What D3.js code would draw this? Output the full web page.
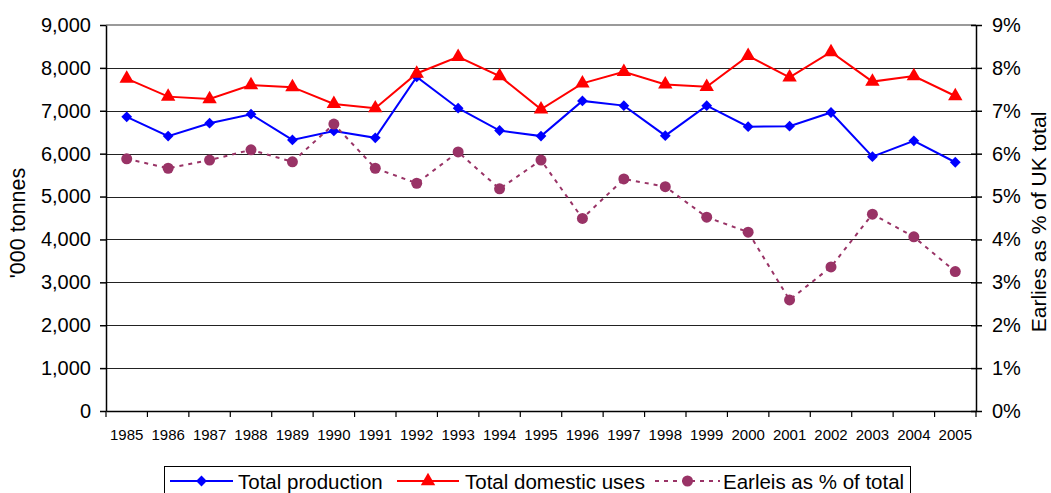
<!DOCTYPE html>
<html>
<head>
<meta charset="utf-8">
<script src="https://cdn.jsdelivr.net/npm/d3@7"></script>
<style>
  html, body { margin: 0; padding: 0; background: #fff; }
  svg { display: block; font-family: "Liberation Sans", Arial, Helvetica, sans-serif; }
</style>
</head>
<body>
<svg id="chart" width="1051" height="493"></svg>
<script>
// ---- data ----
const years = ["1985","1986","1987","1988","1989","1990","1991","1992","1993","1994","1995",
               "1996","1997","1998","1999","2000","2001","2002","2003","2004","2005"];
const totalProduction = [6860, 6410, 6710, 6920, 6320, 6530, 6370, 7790, 7060, 6540, 6410,
                         7230, 7120, 6420, 7120, 6630, 6640, 6960, 5930, 6300, 5800];
const totalDomesticUses = [7750, 7330, 7275, 7600, 7550, 7160, 7060, 7870, 8260, 7810, 7035,
                           7640, 7910, 7615, 7560, 8280, 7780, 8370, 7680, 7810, 7345];
const earliesPct = [5.88, 5.66, 5.85, 6.09, 5.81, 6.69, 5.66, 5.31, 6.04, 5.18, 5.85,
                    4.49, 5.41, 5.23, 4.52, 4.17, 2.59, 3.36, 4.59, 4.06, 3.25];
const leftTicks = [0, 1000, 2000, 3000, 4000, 5000, 6000, 7000, 8000, 9000];
const rightTicks = [0, 1, 2, 3, 4, 5, 6, 7, 8, 9];
const seriesNames = ["Total production", "Total domestic uses", "Earleis as % of total"];
const leftTitle = "'000 tonnes";
const rightTitle = "Earlies as % of UK total";

// ---- layout ----
const svg = d3.select("#chart");
const L = 106, R = 976, T = 25, B = 411;
const blue = "#0000FF", red = "#FF0000", purple = "#993366";

const x = d3.scaleBand().domain(years).range([L, R]).padding(0);
const cx = d => x(d) + x.bandwidth() / 2;
const yL = d3.scaleLinear().domain([0, 9000]).range([B, T]);
const yR = d3.scaleLinear().domain([0, 9]).range([B, T]);

// gridlines
svg.append("g").selectAll("line")
  .data(leftTicks.filter(v => v > 0 && v < 9000))
  .join("line")
  .attr("x1", L).attr("x2", R)
  .attr("y1", d => Math.round(yL(d)) + 0.5).attr("y2", d => Math.round(yL(d)) + 0.5)
  .attr("stroke", "#222").attr("stroke-width", 1);
// top border (grey)
svg.append("line").attr("x1", L).attr("x2", R)
  .attr("y1", yL(9000)).attr("y2", yL(9000))
  .attr("stroke", "#9a9a9a").attr("stroke-width", 2);

// left axis
const gL = svg.append("g").attr("transform", `translate(${L},0)`)
  .call(d3.axisLeft(yL).tickValues(leftTicks).tickFormat(d3.format(",")).tickSize(6).tickSizeOuter(0).tickPadding(9));
gL.selectAll("text").attr("font-size", "20px").attr("fill", "#000").attr("font-family", "Liberation Sans, Arial, sans-serif");
gL.selectAll("line, path").attr("stroke", "#000").attr("stroke-width", 1.5);

// right axis
const gR = svg.append("g").attr("transform", `translate(${R},0)`)
  .call(d3.axisRight(yR).tickValues(rightTicks).tickFormat(d => d + "%").tickSize(6).tickSizeOuter(0).tickPadding(10));
gR.selectAll("text").attr("font-size", "20px").attr("fill", "#000").attr("font-family", "Liberation Sans, Arial, sans-serif");
gR.selectAll("line, path").attr("stroke", "#000").attr("stroke-width", 1.5);
gR.selectAll(".tick line").attr("x1", -5);

// bottom axis: labels at band centers, ticks at band boundaries
const gB = svg.append("g").attr("transform", `translate(0,${B})`)
  .call(d3.axisBottom(x).tickSize(0).tickPadding(18).tickSizeOuter(0));
gB.select("path").attr("stroke", "#000").attr("stroke-width", 1.5);
gB.selectAll("text").attr("font-size", "15px").attr("fill", "#000").attr("font-family", "Liberation Sans, Arial, sans-serif");
gB.append("g").selectAll("line")
  .data(years.concat(["end"]))
  .join("line")
  .attr("x1", (d, i) => i < years.length ? x(d) : R)
  .attr("x2", (d, i) => i < years.length ? x(d) : R)
  .attr("y1", 0).attr("y2", 6)
  .attr("stroke", "#000").attr("stroke-width", 1.2);

// titles
svg.append("text")
  .attr("transform", `translate(25,${(T + B) / 2 + 5}) rotate(-90)`)
  .attr("text-anchor", "middle")
  .attr("font-size", "21.5px").text(leftTitle);
svg.append("text")
  .attr("transform", `translate(1046,${(T + B) / 2 + 4}) rotate(-90)`)
  .attr("text-anchor", "middle")
  .attr("font-size", "21px").text(rightTitle);

// ---- series ----
const diamond = d3.symbol().type(d3.symbolSquare).size(58);
const triangle = d3.symbol().type(d3.symbolTriangle).size(90);

function drawLine(vals, yScale, color, dash) {
  const line = d3.line().x((d, i) => cx(years[i])).y(d => yScale(d));
  svg.append("path").datum(vals)
    .attr("d", line).attr("fill", "none")
    .attr("stroke", color).attr("stroke-width", 2)
    .attr("stroke-dasharray", dash || null);
}

// production
drawLine(totalProduction, yL, blue);
svg.append("g").selectAll("path").data(totalProduction).join("path")
  .attr("transform", (d, i) => `translate(${cx(years[i])},${yL(d)}) rotate(45)`)
  .attr("d", diamond).attr("fill", blue);

// domestic uses
drawLine(totalDomesticUses, yL, red);
svg.append("g").selectAll("path").data(totalDomesticUses).join("path")
  .attr("transform", (d, i) => `translate(${cx(years[i])},${yL(d)})`)
  .attr("d", triangle).attr("fill", red);

// earlies %
drawLine(earliesPct, yR, purple, "4,5");
svg.append("g").selectAll("circle").data(earliesPct).join("circle")
  .attr("cx", (d, i) => cx(years[i])).attr("cy", d => yR(d))
  .attr("r", 5.5).attr("fill", purple);

// ---- legend ----
const lg = svg.append("g");
lg.append("rect").attr("x", 164.5).attr("y", 466.5).attr("width", 746).attr("height", 40)
  .attr("fill", "#fff").attr("stroke", "#000").attr("stroke-width", 1);
const items = [
  { name: seriesNames[0], color: blue, x0: 170, x1: 233, tx: 238, sym: "d" },
  { name: seriesNames[1], color: red, x0: 397, x1: 459, tx: 465, sym: "t" },
  { name: seriesNames[2], color: purple, x0: 655, x1: 720, tx: 723, sym: "c" }
];
const ly = 481;
items.forEach(it => {
  lg.append("line").attr("x1", it.x0).attr("x2", it.x1).attr("y1", ly).attr("y2", ly)
    .attr("stroke", it.color).attr("stroke-width", 2)
    .attr("stroke-dasharray", it.sym === "c" ? "4,5" : null);
  const mx = (it.x0 + it.x1) / 2;
  if (it.sym === "d") lg.append("path").attr("d", diamond).attr("transform", `translate(${mx},${ly}) rotate(45)`).attr("fill", it.color);
  if (it.sym === "t") lg.append("path").attr("d", triangle).attr("transform", `translate(${mx},${ly})`).attr("fill", it.color);
  if (it.sym === "c") lg.append("circle").attr("cx", mx).attr("cy", ly).attr("r", 5.5).attr("fill", it.color);
  lg.append("text").attr("x", it.tx).attr("y", 488.5).attr("font-size", "20.5px").attr("fill", "#000").text(it.name);
});
</script>
</body>
</html>
